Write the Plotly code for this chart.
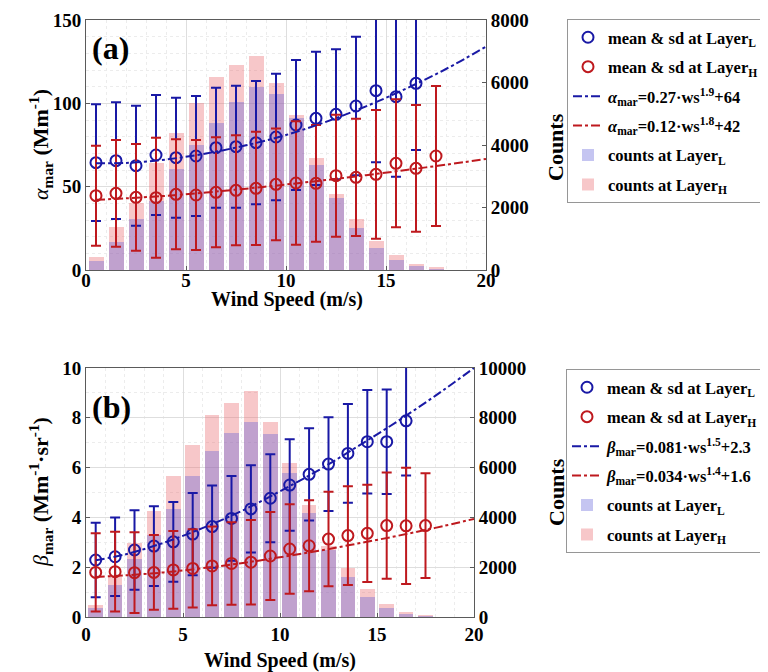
import plotly.graph_objects as go

# ---------------- data ----------------
ws_L = [0.5, 1.5, 2.5, 3.5, 4.5, 5.5, 6.5, 7.5, 8.5, 9.5, 10.5, 11.5, 12.5, 13.5, 14.5, 15.5, 16.5]
ws_H = [0.5, 1.5, 2.5, 3.5, 4.5, 5.5, 6.5, 7.5, 8.5, 9.5, 10.5, 11.5, 12.5, 13.5, 14.5, 15.5, 16.5, 17.5]
ws_bins = ws_H

# panel (a): alpha_mar
aL_mean = [64.4, 65.6, 62.6, 69.0, 67.4, 68.4, 73.4, 74.0, 76.4, 79.8, 87.0, 91.0, 93.4, 98.4, 107.6, 104.0, 112.0]
aL_sd = [35, 35, 36, 36, 36, 36, 36, 36.6, 37, 38, 39, 40, 39, 41.6, 43, 48, 40]
aH_mean = [44.6, 46.0, 43.6, 43.4, 45.4, 45.0, 46.6, 47.8, 49.0, 51.4, 52.2, 52.0, 56.6, 55.6, 57.4, 64.0, 61.0, 68.4]
aH_sd = [30, 32, 32, 36, 33, 33, 33, 33, 34, 33.5, 37, 35, 36.6, 35.2, 38.6, 38.4, 38, 42]
cntL_a = [288, 885, 1640, 2200, 3221, 4000, 4715, 5365, 5867, 5632, 4850, 3360, 2290, 1355, 715, 320, 139, 30]
cntH_a = [405, 1387, 2150, 3413, 4373, 5355, 6187, 6560, 6848, 5995, 4950, 3573, 2421, 1632, 928, 480, 192, 107]

# panel (b): beta_mar
bL_mean = [2.29, 2.42, 2.69, 2.85, 3.02, 3.33, 3.63, 3.96, 4.34, 4.77, 5.30, 5.73, 6.14, 6.57, 7.04, 7.04, 7.88]
bL_sd = [1.5, 1.58, 1.6, 1.6, 1.6, 1.65, 1.65, 1.7, 1.75, 1.77, 1.84, 1.85, 1.88, 1.98, 2.08, 2.1, 2.2]
bH_mean = [1.79, 1.82, 1.78, 1.79, 1.89, 1.95, 2.05, 2.15, 2.20, 2.45, 2.73, 2.86, 3.13, 3.27, 3.36, 3.67, 3.66, 3.67]
bH_sd = [1.57, 1.6, 1.62, 1.5, 1.56, 1.57, 1.58, 1.66, 1.7, 1.77, 1.8, 1.83, 1.9, 1.98, 1.95, 2.13, 2.33, 2.1]
cntL_b = [348, 1285, 2317, 3293, 4350, 5663, 6680, 7377, 7845, 7350, 5770, 4163, 2690, 1620, 817, 348, 120, 30]
cntH_b = [482, 1620, 2960, 4257, 5663, 6908, 8112, 8607, 9076, 7845, 6172, 4498, 2851, 1980, 1111, 509, 188, 80]

# fitted curves, values
fit_x = [0.5, 2, 4, 6, 8, 10, 12, 14, 16, 18, 20]
fitL_a = [64.1, 64.2, 66.3, 69.9, 74.8, 81.0, 88.9, 98.2, 108.8, 120.6, 134.0]
fitH_a = [42.1, 43.0, 44.5, 46.5, 48.8, 51.3, 54.0, 56.9, 60.0, 63.2, 66.6]
fitL_b = [2.28, 2.51, 2.98, 3.57, 4.25, 5.05, 5.90, 6.85, 7.83, 8.88, 10.0]
fitH_b = [1.61, 1.67, 1.79, 1.96, 2.16, 2.40, 2.66, 2.95, 3.25, 3.58, 3.94]

# ---------------- styles ----------------
BLUE = "rgb(25,25,165)"
RED = "rgb(190,25,30)"
BAR_L = "rgba(95,95,215,0.36)"
BAR_H = "rgba(235,115,120,0.40)"
FONT = "Times New Roman, Liberation Serif, serif"
OFF = 8                      # page body margin
W, H = 768 - OFF, 672 - OFF

def px_x(p):
    return (p - OFF) / W

def px_y(p):
    return 1 - (p - OFF) / H

fig = go.Figure()

def add_panel(legend, xa, yc, yv, meanL, sdL, meanH, sdH, cL, cH, fL, fH, labL, labH):
    g = legend + "_"
    fig.add_trace(go.Bar(x=ws_bins, y=cH, width=0.75, marker=dict(color=BAR_H, line=dict(width=0)),
                         name="counts at Layer<sub>H</sub>", xaxis=xa, yaxis=yc, legend=legend, legendrank=6,
                         legendgroup=g + "6"))
    fig.add_trace(go.Bar(x=ws_bins, y=cL, width=0.75, marker=dict(color=BAR_L, line=dict(width=0)),
                         name="counts at Layer<sub>L</sub>", xaxis=xa, yaxis=yc, legend=legend, legendrank=5,
                         legendgroup=g + "5"))
    fig.add_trace(go.Scatter(x=ws_L, y=meanL, mode="markers",
                             marker=dict(symbol="circle-open", size=11, color=BLUE, line=dict(width=2, color=BLUE)),
                             error_y=dict(type="data", array=sdL, color=BLUE, thickness=2, width=5),
                             name="mean &amp; sd at Layer<sub>L</sub>", xaxis=xa, yaxis=yv, legend=legend, legendrank=1,
                             legendgroup=g + "1"))
    fig.add_trace(go.Scatter(x=ws_H, y=meanH, mode="markers",
                             marker=dict(symbol="circle-open", size=11, color=RED, line=dict(width=2, color=RED)),
                             error_y=dict(type="data", array=sdH, color=RED, thickness=2, width=5),
                             name="mean &amp; sd at Layer<sub>H</sub>", xaxis=xa, yaxis=yv, legend=legend, legendrank=2,
                             legendgroup=g + "2"))
    fig.add_trace(go.Scatter(x=fit_x, y=fL, mode="lines", line=dict(color=BLUE, width=2, dash="dashdot", shape="spline"),
                             name=labL, xaxis=xa, yaxis=yv, legend=legend, legendrank=3, legendgroup=g + "3"))
    fig.add_trace(go.Scatter(x=fit_x, y=fH, mode="lines", line=dict(color=RED, width=2, dash="dashdot", shape="spline"),
                             name=labH, xaxis=xa, yaxis=yv, legend=legend, legendrank=4, legendgroup=g + "4"))

add_panel("legend", "x", "y", "y2", aL_mean, aL_sd, aH_mean, aH_sd, cntL_a, cntH_a, fitL_a, fitH_a,
          "<i>α</i><sub>mar</sub>=0.27·ws<sup>1.9</sup>+64", "<i>α</i><sub>mar</sub>=0.12·ws<sup>1.8</sup>+42")
add_panel("legend2", "x2", "y3", "y4", bL_mean, bL_sd, bH_mean, bH_sd, cntL_b, cntH_b, fitL_b, fitH_b,
          "<i>β</i><sub>mar</sub>=0.081·ws<sup>1.5</sup>+2.3", "<i>β</i><sub>mar</sub>=0.034·ws<sup>1.4</sup>+1.6")

tickfont = dict(family=FONT, size=19, color="black", weight="bold")
GRID = "rgb(222,222,222)"
MINOR = "rgb(236,236,236)"
AX = "rgb(90,90,90)"

def xaxis_cfg(domain, anchor, standoff):
    return dict(domain=domain, anchor=anchor, range=[0, 20], tick0=0, dtick=5, automargin=False,
                showline=True, linecolor=AX, linewidth=1, mirror=True,
                ticks="inside", ticklen=4, tickcolor=AX, ticklabelstandoff=standoff,
                showgrid=True, gridcolor=GRID, gridwidth=1, zeroline=False,
                minor=dict(dtick=1, showgrid=True, gridcolor=MINOR, griddash="dot", ticks=""),
                tickfont=tickfont)

def counts_cfg(domain, anchor, rmax, dtick):
    return dict(domain=domain, anchor=anchor, side="right", range=[0, rmax], dtick=dtick, automargin=False,
                tickformat="d",
                showgrid=False, zeroline=False, showline=True, linecolor=AX, linewidth=1,
                ticks="inside", ticklen=4, tickcolor=AX, tickfont=tickfont)

def val_cfg(overlay, anchor, rmax, dtick, mdtick):
    return dict(overlaying=overlay, anchor=anchor, side="left", range=[0, rmax], dtick=dtick, automargin=False,
                showgrid=True, gridcolor=GRID, gridwidth=1, zeroline=False,
                minor=dict(dtick=mdtick, showgrid=True, gridcolor=MINOR, griddash="dot", ticks=""),
                showline=True, linecolor=AX, linewidth=1,
                ticks="inside", ticklen=4, tickcolor=AX, tickfont=tickfont)

dom_xa = [px_x(86), px_x(486)]
dom_xb = [px_x(86), px_x(474)]
dom_ya = [px_y(270), px_y(20)]
dom_yb = [px_y(617), px_y(368)]

legend_common = dict(font=dict(family=FONT, size=16.5, color="black", weight="bold"),
                     bordercolor="rgb(150,150,150)", borderwidth=1, bgcolor="white",
                     xanchor="left", yanchor="top", tracegroupgap=5, itemwidth=30)

def ann(text, x, y, size, angle=0):
    return dict(text=text, xref="paper", yref="paper", x=px_x(x), y=px_y(y), xanchor="center", yanchor="middle",
                showarrow=False, textangle=angle, font=dict(family=FONT, size=size, color="black"))

fig.update_layout(
    width=W, height=H, margin=dict(l=0, r=0, t=0, b=0, autoexpand=False),
    paper_bgcolor="white", plot_bgcolor="white",
    barmode="overlay", bargap=0, showlegend=True,
    xaxis=xaxis_cfg(dom_xa, "y", -7),
    yaxis=counts_cfg(dom_ya, "x", 8000, 2000),
    yaxis2=val_cfg("y", "x", 150, 50, 10),
    xaxis2=xaxis_cfg(dom_xb, "y3", 0),
    yaxis3=counts_cfg(dom_yb, "x2", 10000, 2000),
    yaxis4=val_cfg("y3", "x2", 10, 2, 1),
    legend=dict(x=px_x(567), y=px_y(19), **legend_common),
    legend2=dict(x=px_x(566), y=px_y(369), **legend_common),
    annotations=[
        dict(text="<b>(a)</b>", xref="paper", yref="paper", x=px_x(90), y=px_y(48), xanchor="left", yanchor="middle",
             showarrow=False, font=dict(family=FONT, size=32, color="black")),
        dict(text="<b>(b)</b>", xref="paper", yref="paper", x=px_x(90), y=px_y(407), xanchor="left", yanchor="middle",
             showarrow=False, font=dict(family=FONT, size=32, color="black")),
        ann("<b>Wind Speed (m/s)</b>", 287, 299, 20),
        ann("<b>Wind Speed (m/s)</b>", 280, 660, 20),
        ann("<i>α</i><b><sub>mar</sub> (Mm<sup>-1</sup>)</b>", 40, 145, 22, -90),
        ann("<i>β</i><b><sub>mar</sub> (Mm<sup>-1</sup>·sr<sup>-1</sup>)</b>", 40, 492, 22, -90),
        ann("<b>Counts</b>", 556, 147, 22, -90),
        ann("<b>Counts</b>", 556, 492, 22, -90),
    ],
)

fig.write_html("out.html")
